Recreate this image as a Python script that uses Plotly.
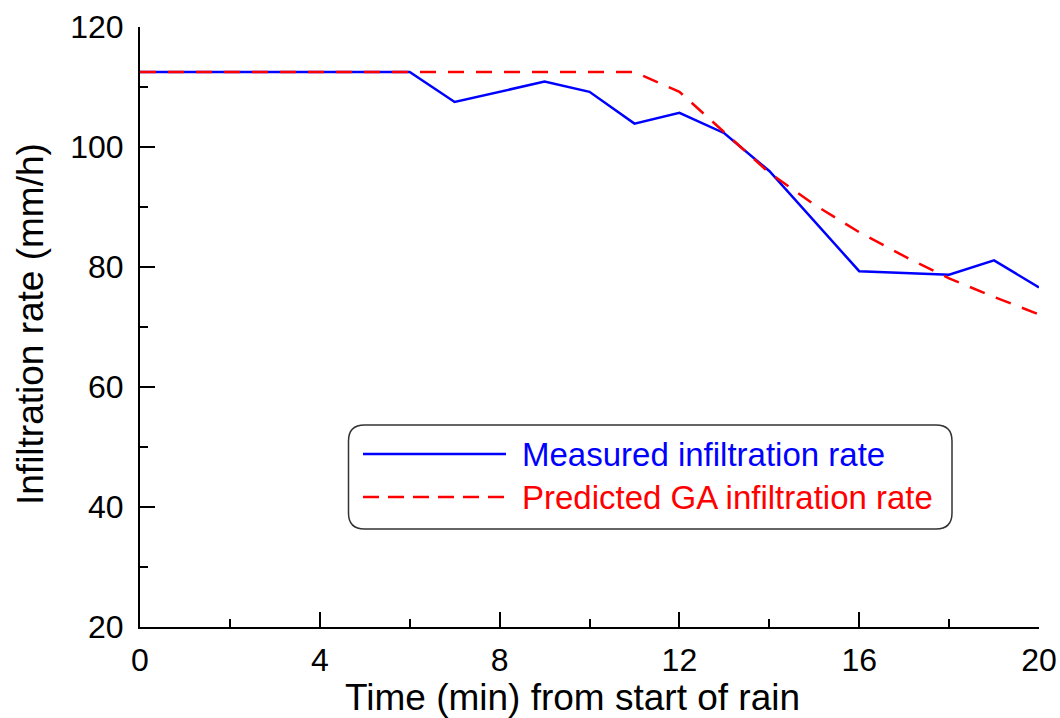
import plotly.graph_objects as go

# ---- data ----
time_measured = [0, 1, 2, 3, 4, 5, 6, 7, 8, 9, 10, 11, 12, 13, 14, 15, 16, 17, 18, 19, 20]
rate_measured = [112.5, 112.5, 112.5, 112.5, 112.5, 112.5, 112.5, 107.5, 109.2, 110.9, 109.2,
                 103.9, 105.7, 102.3, 96.0, 87.6, 79.3, 79.0, 78.7, 81.1, 76.6]
time_predicted = [0, 1, 2, 3, 4, 5, 6, 7, 8, 9, 10, 11, 12, 13, 14, 15, 16, 17, 18, 19, 20]
rate_predicted = [112.5, 112.5, 112.5, 112.5, 112.5, 112.5, 112.5, 112.5, 112.5, 112.5, 112.5,
                  112.5, 109.2, 102.5, 95.7, 90.4, 85.8, 81.8, 78.1, 75.0, 72.1]
series_names = ["Measured infiltration rate", "Predicted GA infiltration rate"]
x_ticks = [0, 4, 8, 12, 16, 20]
y_ticks = [20, 40, 60, 80, 100, 120]

FONT = "Liberation Sans, Arial, sans-serif"
BLUE = "#0000FF"
RED = "#FF0000"

# plot area in pixels
L, R, T, B = 140, 1039, 27, 627
W, H = 1060, 718


def xp(px):
    return (px - L) / (R - L)


def yp(py):
    return (B - py) / (B - T)


fig = go.Figure()
fig.add_trace(go.Scatter(x=time_measured, y=rate_measured, mode="lines",
                         name=series_names[0], line=dict(color=BLUE, width=2.5),
                         showlegend=False))
fig.add_trace(go.Scatter(x=time_predicted, y=rate_predicted, mode="lines",
                         name=series_names[1],
                         line=dict(color=RED, width=2.5, dash="16px,12px"),
                         showlegend=False))

axis_common = dict(showline=True, linecolor="black", linewidth=2, mirror=False,
                   ticks="inside", tickcolor="black", tickwidth=2, ticklen=15,
                   showgrid=False, zeroline=False, automargin=False,
                   tickfont=dict(family=FONT, size=32, color="black"))

fig.update_xaxes(range=[0, 20], tickvals=x_ticks, ticktext=[str(v) for v in x_ticks],
                 ticklabelstandoff=4,
                 minor=dict(ticks="inside", tickvals=[2, 6, 10, 14, 18], ticklen=8,
                            tickwidth=2, tickcolor="black"),
                 **axis_common)
fig.update_yaxes(range=[20, 120], tickvals=y_ticks, ticktext=[str(v) for v in y_ticks],
                 ticklabelstandoff=8,
                 minor=dict(ticks="inside", tickvals=[30, 50, 70, 90, 110], ticklen=8,
                            tickwidth=2, tickcolor="black"),
                 **axis_common)

# legend box (rounded rectangle) in paper coordinates
lx0, lx1, ly0, ly1, rad = 348.5, 952, 425, 529, 16
rx = rad / (R - L)
ry = rad / (B - T)
X0, X1, Y0, Y1 = xp(lx0), xp(lx1), yp(ly1), yp(ly0)
path = (f"M{X0 + rx},{Y1} L{X1 - rx},{Y1} Q{X1},{Y1} {X1},{Y1 - ry} "
        f"L{X1},{Y0 + ry} Q{X1},{Y0} {X1 - rx},{Y0} L{X0 + rx},{Y0} "
        f"Q{X0},{Y0} {X0},{Y0 + ry} L{X0},{Y1 - ry} Q{X0},{Y1} {X0 + rx},{Y1} Z")
shapes = [
    dict(type="path", xref="paper", yref="paper", path=path,
         line=dict(color="#333333", width=1.5), fillcolor="white", layer="above"),
    dict(type="line", xref="paper", yref="paper", x0=xp(363), x1=xp(506),
         y0=yp(454), y1=yp(454), line=dict(color=BLUE, width=2.5), layer="above"),
    dict(type="line", xref="paper", yref="paper", x0=xp(363), x1=xp(506),
         y0=yp(497), y1=yp(497), line=dict(color=RED, width=2.5, dash="16px,9px"),
         layer="above"),
]

annotations = [
    dict(text=series_names[0], xref="paper", yref="paper", x=xp(520), y=yp(454),
         xanchor="left", yanchor="middle", showarrow=False,
         font=dict(family=FONT, size=33, color=BLUE)),
    dict(text=series_names[1], xref="paper", yref="paper", x=xp(520), y=yp(497),
         xanchor="left", yanchor="middle", showarrow=False,
         font=dict(family=FONT, size=33, color=RED)),
    dict(text="Time (min) from start of rain", xref="paper", yref="paper",
         x=xp(572), y=yp(697), xanchor="center", yanchor="middle", showarrow=False,
         font=dict(family=FONT, size=37, color="black")),
    dict(text="Infiltration rate (mm/h)", xref="paper", yref="paper",
         x=xp(30), y=yp(324), xanchor="center", yanchor="middle", showarrow=False,
         textangle=-90, font=dict(family=FONT, size=37, color="black")),
]

fig.update_layout(width=W, height=H, margin=dict(l=L, r=W - R, t=T, b=H - B),
                  plot_bgcolor="white", paper_bgcolor="white",
                  shapes=shapes, annotations=annotations, showlegend=False,
                  font=dict(family=FONT))

fig.write_html("out.html")
